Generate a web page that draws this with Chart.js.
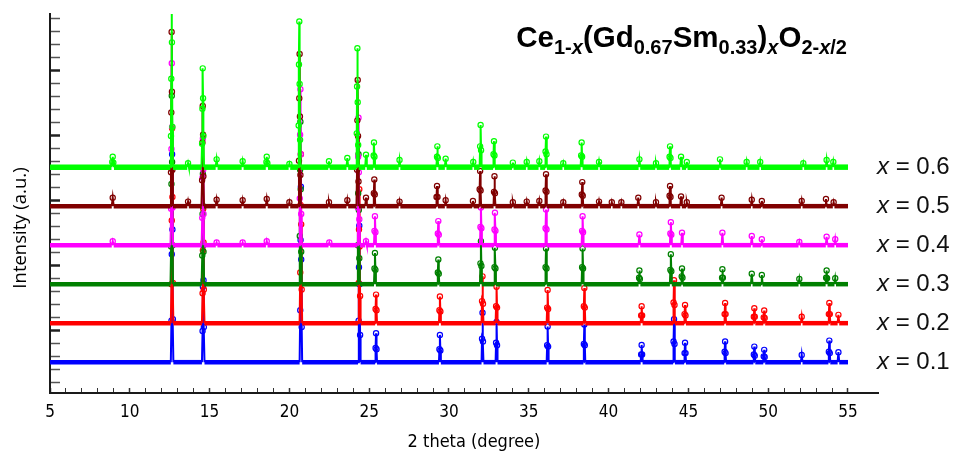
<!DOCTYPE html>
<html>
<head>
<meta charset="utf-8">
<script src="https://cdn.jsdelivr.net/npm/chart.js@4.4.1/dist/chart.umd.min.js"></script>
<style>
  html, body { margin: 0; padding: 0; background: #fff; }
  #wrap { position: relative; width: 955px; height: 466px; }
  #formula {
    position: absolute; right: 108px; top: 22px;
    font: bold 29.5px "Liberation Sans", Arial, sans-serif; line-height: 29px;
    color: #000; white-space: nowrap;
  }
  #formula span.s { font-size: 20px; vertical-align: -7px; line-height: 0; }
</style>
</head>
<body>
<div id="wrap">
  <canvas id="xrd" width="955" height="466"></canvas>
  <div id="formula">Ce<span class="s">1-<i>x</i></span>(Gd<span class="s">0.67</span>Sm<span class="s">0.33</span>)<span class="s"><i>x</i></span>O<span class="s">2-<i>x</i>/2</span></div>
</div>
<script>
// composition labels, top pattern first
const labels = ["0.6", "0.5", "0.4", "0.3", "0.2", "0.1"];
// vertical shift of each pattern (a.u.)
const offsets = [17.6, 14.6, 11.6, 8.6, 5.6, 2.6];
const colors = ["#00ff00", "#800000", "#ff00ff", "#008000", "#ff0000", "#0000ff"];

// [2 theta, intensity]
const x06 = [
  [5,0],
  [8.85,0],[8.9,0.4],[8.93,0.8],[8.97,0.35],[9.01,0],
  [12.54,0],[12.58,2.4],[12.6,6.8],[12.62,14.5],[12.64,9.6],[12.67,3.1],[12.7,0],
  [13.6,0],[13.65,0.3],[13.7,0],
  [14.49,0],[14.53,1.8],[14.55,4.5],[14.57,7.6],[14.59,5.3],[14.61,2.4],[14.65,0],
  [15.38,0],[15.44,0.6],[15.5,0],
  [17.01,0],[17.07,0.45],[17.13,0],
  [18.52,0],[18.56,0.4],[18.58,0.8],[18.62,0.3],[18.66,0],
  [19.95,0],[20.0,0.25],[20.05,0],
  [20.54,0],[20.58,3.2],[20.6,7.9],[20.62,11.2],[20.64,6.4],[20.67,2.1],[20.7,0],
  [22.43,0],[22.48,0.45],[22.53,0],
  [23.58,0],[23.63,0.7],[23.68,0],
  [24.18,0],[24.22,2.6],[24.24,6.2],[24.26,9.15],[24.28,5.0],[24.31,1.7],[24.34,0],
  [24.75,0],[24.8,0.95],[24.85,0],
  [25.25,0],[25.28,0.9],[25.3,1.9],[25.33,0.8],[25.36,0],
  [26.85,0],[26.9,0.55],[26.95,0],
  [29.21,0],[29.25,0.8],[29.27,1.6],[29.3,0.7],[29.33,0],
  [29.74,0],[29.79,0.65],[29.84,0],
  [31.47,0],[31.52,0.4],[31.57,0],
  [31.92,0],[31.95,1.6],[31.98,3.25],[32.01,1.3],[32.04,0],
  [32.76,0],[32.79,1.0],[32.82,2.0],[32.85,0.9],[32.88,0],
  [33.95,0],[34.0,0.35],[34.05,0],
  [34.82,0],[34.87,0.4],[34.92,0],
  [35.61,0],[35.66,0.45],[35.71,0],
  [36.02,0],[36.05,1.2],[36.08,2.35],[36.11,1.0],[36.14,0],
  [37.11,0],[37.16,0.3],[37.21,0],
  [38.25,0],[38.28,0.9],[38.31,1.9],[38.34,0.8],[38.37,0],
  [39.35,0],[39.4,0.4],[39.45,0],
  [41.88,0],[41.93,0.6],[41.98,0],
  [42.92,0],[42.97,0.3],[43.02,0],
  [43.79,0],[43.82,0.8],[43.85,1.6],[43.88,0.7],[43.91,0],
  [44.49,0],[44.54,0.8],[44.59,0],
  [44.85,0],[44.9,0.4],[44.95,0],
  [46.93,0],[46.98,0.6],[47.03,0],
  [48.6,0],[48.65,0.4],[48.7,0],
  [49.45,0],[49.5,0.4],[49.55,0],
  [52.15,0],[52.2,0.3],[52.25,0],
  [53.61,0],[53.66,0.55],[53.71,0],
  [54.03,0],[54.08,0.4],[54.13,0],
  [55,0]
];
const x05 = [
  [5,0],
  [8.87,0],[8.93,0.65],[8.99,0],
  [12.54,0],[12.58,2.6],[12.6,7.2],[12.62,13.4],[12.64,8.8],[12.67,2.8],[12.7,0],
  [13.6,0],[13.65,0.35],[13.7,0],
  [14.49,0],[14.53,2.0],[14.55,4.9],[14.57,7.7],[14.59,5.5],[14.61,2.3],[14.65,0],
  [15.38,0],[15.44,0.5],[15.5,0],
  [17.01,0],[17.07,0.45],[17.13,0],
  [18.52,0],[18.58,0.55],[18.64,0],
  [19.95,0],[20.0,0.3],[20.05,0],
  [20.56,0],[20.6,3.5],[20.62,8.3],[20.64,11.7],[20.66,6.9],[20.69,2.4],[20.72,0],
  [22.43,0],[22.48,0.3],[22.53,0],
  [23.58,0],[23.63,0.45],[23.68,0],
  [24.2,0],[24.24,2.8],[24.26,6.6],[24.28,9.7],[24.3,5.4],[24.33,1.9],[24.36,0],
  [24.75,0],[24.8,0.65],[24.85,0],
  [25.26,0],[25.29,1.0],[25.32,2.05],[25.35,0.9],[25.38,0],
  [26.85,0],[26.9,0.35],[26.95,0],
  [29.19,0],[29.22,0.7],[29.25,1.55],[29.28,0.7],[29.31,0],
  [29.74,0],[29.79,0.45],[29.84,0],
  [31.45,0],[31.5,0.4],[31.55,0],
  [31.89,0],[31.92,1.3],[31.95,2.7],[31.98,1.2],[32.01,0],
  [32.79,0],[32.82,1.1],[32.85,2.3],[32.88,1.0],[32.91,0],
  [33.95,0],[34.0,0.3],[34.05,0],
  [34.82,0],[34.87,0.35],[34.92,0],
  [35.61,0],[35.66,0.4],[35.71,0],
  [36.02,0],[36.05,1.2],[36.08,2.45],[36.11,1.1],[36.14,0],
  [37.11,0],[37.16,0.3],[37.21,0],
  [38.29,0],[38.32,0.9],[38.35,1.85],[38.38,0.8],[38.41,0],
  [39.35,0],[39.4,0.35],[39.45,0],
  [40.15,0],[40.2,0.3],[40.25,0],
  [40.75,0],[40.8,0.3],[40.85,0],
  [41.81,0],[41.86,0.65],[41.91,0],
  [42.92,0],[42.97,0.3],[43.02,0],
  [43.79,0],[43.82,0.8],[43.85,1.55],[43.88,0.7],[43.91,0],
  [44.49,0],[44.54,0.75],[44.59,0],
  [44.85,0],[44.9,0.3],[44.95,0],
  [47.03,0],[47.08,0.65],[47.13,0],
  [48.92,0],[48.97,0.5],[49.02,0],
  [49.55,0],[49.6,0.4],[49.65,0],
  [52.05,0],[52.1,0.4],[52.15,0],
  [53.57,0],[53.62,0.55],[53.67,0],
  [54.05,0],[54.1,0.3],[54.15,0],
  [55,0]
];
const x04 = [
  [5,0],
  [8.87,0],[8.93,0.3],[8.99,0],
  [12.55,0],[12.59,2.8],[12.61,7.4],[12.63,14],[12.65,9.1],[12.68,2.9],[12.71,0],
  [14.5,0],[14.54,2.1],[14.56,5.2],[14.58,8.2],[14.6,5.8],[14.62,2.4],[14.66,0],
  [15.39,0],[15.44,0.2],[15.49,0],
  [17.02,0],[17.07,0.2],[17.12,0],
  [18.53,0],[18.58,0.3],[18.63,0],
  [20.61,0],[20.65,3.6],[20.67,8.5],[20.69,12],[20.71,7.0],[20.74,2.4],[20.77,0],
  [22.45,0],[22.5,0.2],[22.55,0],
  [24.25,0],[24.29,2.9],[24.31,6.8],[24.33,9.8],[24.35,5.6],[24.38,2.0],[24.41,0],
  [24.75,0],[24.8,0.3],[24.85,0],
  [25.3,0],[25.33,1.1],[25.36,2.23],[25.39,1.0],[25.42,0],
  [29.27,0],[29.3,0.9],[29.33,1.85],[29.36,0.8],[29.39,0],
  [31.94,0],[31.97,1.4],[32.0,2.9],[32.03,1.3],[32.06,0],
  [32.82,0],[32.85,1.2],[32.88,2.5],[32.91,1.1],[32.94,0],
  [36.02,0],[36.05,1.3],[36.08,2.75],[36.11,1.2],[36.14,0],
  [38.31,0],[38.34,1.1],[38.37,2.23],[38.4,1.0],[38.43,0],
  [41.88,0],[41.93,0.82],[41.98,0],
  [43.84,0],[43.87,0.9],[43.9,1.77],[43.93,0.8],[43.96,0],
  [44.55,0],[44.6,0.95],[44.65,0],
  [47.08,0],[47.13,0.95],[47.18,0],
  [48.92,0],[48.97,0.7],[49.02,0],
  [49.55,0],[49.6,0.45],[49.65,0],
  [51.9,0],[51.95,0.25],[52.0,0],
  [53.61,0],[53.66,0.65],[53.71,0],
  [54.15,0],[54.2,0.45],[54.25,0],
  [55,0]
];
const x03 = [
  [5,0],
  [12.55,0],[12.59,2.9],[12.61,7.7],[12.63,14.5],[12.65,9.4],[12.68,3.0],[12.71,0],
  [14.5,0],[14.54,2.2],[14.56,5.4],[14.58,8.5],[14.6,6.0],[14.62,2.5],[14.66,0],
  [20.61,0],[20.65,3.7],[20.67,8.8],[20.69,12.5],[20.71,7.3],[20.74,2.5],[20.77,0],
  [24.25,0],[24.29,3.0],[24.31,7.0],[24.33,10],[24.35,5.7],[24.38,2.0],[24.41,0],
  [25.3,0],[25.33,1.2],[25.36,2.4],[25.39,1.1],[25.42,0],
  [29.27,0],[29.3,0.9],[29.33,1.9],[29.36,0.8],[29.39,0],
  [31.94,0],[31.97,1.6],[32.0,3.3],[32.03,1.4],[32.06,0],
  [32.82,0],[32.85,1.3],[32.88,2.8],[32.91,1.2],[32.94,0],
  [36.02,0],[36.05,1.3],[36.08,2.75],[36.11,1.2],[36.14,0],
  [38.31,0],[38.34,1.3],[38.37,2.75],[38.4,1.2],[38.43,0],
  [41.88,0],[41.91,0.5],[41.93,1.05],[41.96,0.4],[41.99,0],
  [43.84,0],[43.87,1.1],[43.9,2.3],[43.93,1.0],[43.96,0],
  [44.55,0],[44.58,0.6],[44.6,1.2],[44.63,0.5],[44.66,0],
  [47.08,0],[47.11,0.5],[47.13,1.15],[47.16,0.5],[47.19,0],
  [48.92,0],[48.97,0.8],[49.02,0],
  [49.55,0],[49.6,0.7],[49.65,0],
  [51.9,0],[51.95,0.4],[52.0,0],
  [53.6,0],[53.63,0.5],[53.66,1.05],[53.69,0.45],[53.72,0],
  [54.15,0],[54.2,0.45],[54.25,0],
  [55,0]
];
const x02 = [
  [5,0],
  [12.57,0],[12.61,3.0],[12.63,7.9],[12.65,15],[12.67,9.7],[12.7,3.1],[12.73,0],
  [14.52,0],[14.56,2.3],[14.58,5.6],[14.6,8.8],[14.62,6.2],[14.64,2.6],[14.68,0],
  [20.64,0],[20.68,3.9],[20.7,9.1],[20.72,13],[20.74,7.6],[20.77,2.6],[20.8,0],
  [24.3,0],[24.34,3.1],[24.36,7.2],[24.38,10.3],[24.4,5.9],[24.43,2.1],[24.46,0],
  [25.37,0],[25.4,1.1],[25.43,2.2],[25.46,1.0],[25.49,0],
  [29.37,0],[29.4,1.0],[29.43,2.05],[29.46,0.9],[29.49,0],
  [32.04,0],[32.07,1.7],[32.1,3.6],[32.13,1.5],[32.16,0],
  [32.92,0],[32.95,1.3],[32.98,2.8],[33.01,1.2],[33.04,0],
  [36.12,0],[36.15,1.2],[36.18,2.55],[36.21,1.1],[36.24,0],
  [38.42,0],[38.45,1.3],[38.48,2.7],[38.51,1.2],[38.54,0],
  [42.01,0],[42.04,0.6],[42.07,1.3],[42.1,0.6],[42.13,0],
  [44.04,0],[44.07,1.6],[44.1,3.3],[44.13,1.4],[44.16,0],
  [44.73,0],[44.76,0.7],[44.79,1.4],[44.82,0.6],[44.85,0],
  [47.24,0],[47.27,0.7],[47.3,1.55],[47.33,0.7],[47.36,0],
  [49.07,0],[49.1,0.5],[49.13,1.15],[49.16,0.5],[49.19,0],
  [49.69,0],[49.72,0.45],[49.75,0.97],[49.78,0.4],[49.81,0],
  [52.05,0],[52.1,0.5],[52.15,0],
  [53.77,0],[53.8,0.7],[53.83,1.55],[53.86,0.7],[53.89,0],
  [54.35,0],[54.4,0.64],[54.45,0],
  [55,0]
];
const x01 = [
  [5,0],
  [12.57,0],[12.61,3.2],[12.63,8.3],[12.65,16],[12.67,10.2],[12.7,3.3],[12.73,0],
  [14.52,0],[14.56,2.4],[14.58,5.8],[14.6,9],[14.62,6.3],[14.64,2.7],[14.68,0],
  [20.64,0],[20.68,4.0],[20.7,9.4],[20.72,13.5],[20.74,7.9],[20.77,2.7],[20.8,0],
  [24.3,0],[24.34,3.2],[24.36,7.3],[24.38,10.5],[24.4,6.0],[24.43,2.1],[24.46,0],
  [25.37,0],[25.4,1.1],[25.43,2.23],[25.46,1.0],[25.49,0],
  [29.37,0],[29.4,1.0],[29.43,2.1],[29.46,0.9],[29.49,0],
  [32.04,0],[32.07,1.8],[32.1,3.8],[32.13,1.6],[32.16,0],
  [32.92,0],[32.95,1.5],[32.98,3.1],[33.01,1.3],[33.04,0],
  [36.12,0],[36.15,1.3],[36.18,2.75],[36.21,1.2],[36.24,0],
  [38.42,0],[38.45,1.4],[38.48,2.9],[38.51,1.3],[38.54,0],
  [42.01,0],[42.04,0.6],[42.07,1.33],[42.1,0.6],[42.13,0],
  [44.04,0],[44.07,1.6],[44.1,3.3],[44.13,1.4],[44.16,0],
  [44.73,0],[44.76,0.7],[44.79,1.5],[44.82,0.7],[44.85,0],
  [47.24,0],[47.27,0.8],[47.3,1.6],[47.33,0.7],[47.36,0],
  [49.07,0],[49.1,0.6],[49.13,1.2],[49.16,0.5],[49.19,0],
  [49.69,0],[49.72,0.45],[49.75,0.95],[49.78,0.4],[49.81,0],
  [52.05,0],[52.1,0.56],[52.15,0],
  [53.77,0],[53.8,0.8],[53.83,1.66],[53.86,0.7],[53.89,0],
  [54.35,0],[54.4,0.77],[54.45,0],
  [55,0]
];
const patterns = [x06, x05, x04, x03, x02, x01];

// x tick values that get a label
const xLabelTicks = [5, 10, 15, 20, 25, 30, 35, 40, 45, 50, 55];

const datasets = patterns.map((pts, i) => {
  const off = offsets[i];
  return {
    label: "x = " + labels[i],
    data: pts.map(p => ({ x: p[0], y: p[1] + off })),
    borderColor: colors[i],
    backgroundColor: "rgba(0,0,0,0)",
    borderWidth: 2,
    tension: 0,
    pointStyle: "circle",
    pointRadius: ctx => (ctx.raw && ctx.raw.y - off > 0.12 ? 2.6 : 0),
    pointBorderWidth: 1.2,
    pointBorderColor: colors[i],
    pointBackgroundColor: "rgba(0,0,0,0)",
    segment: {
      borderWidth: c => (c.p0.parsed.y - off < 0.05 && c.p1.parsed.y - off < 0.05 ? (i === 0 ? 5.5 : 4.5) : 2)
    }
  };
});

// composition labels on the right + axis titles
const textLayer = {
  id: "textLayer",
  afterDraw(chart) {
    const { ctx, chartArea, scales } = chart;
    ctx.save();
    ctx.textBaseline = "middle";
    ctx.fillStyle = "#111";
    labels.forEach((v, i) => {
      const py = scales.y.getPixelForValue(offsets[i]);
      let px = chartArea.right - 1;
      ctx.font = 'italic 24px "Liberation Sans", Arial, sans-serif';
      ctx.fillText("x", px, py);
      px += ctx.measureText("x").width;
      ctx.font = '24px "Liberation Sans", Arial, sans-serif';
      ctx.fillText(" = " + v, px, py);
    });

    ctx.textAlign = "center";
    ctx.fillStyle = "#000";
    ctx.font = '18px "Liberation Sans Narrow", "DejaVu Sans Condensed", sans-serif';
    ctx.fillText("2 theta (degree)", 474, 442);

    ctx.translate(21, 228);
    ctx.rotate(-Math.PI / 2);
    ctx.font = '18.5px "Open Sans", sans-serif';
    ctx.fillText("Intensity (a.u.)", 0, 0);
    ctx.restore();
  }
};

new Chart(document.getElementById("xrd"), {
  type: "line",
  data: { datasets: datasets },
  options: {
    responsive: false,
    animation: false,
    devicePixelRatio: 1,
    events: [],
    layout: { padding: { left: 0, right: 77, top: 14, bottom: 0 } },
    plugins: { legend: { display: false }, tooltip: { enabled: false } },
    scales: {
      x: {
        type: "linear",
        min: 5,
        max: 56.88,
        afterFit: s => { s.height = 73; },
        border: { color: "#1a1a1a", width: 2 },
        grid: {
          drawOnChartArea: false,
          drawTicks: true,
          tickLength: -5,
          tickWidth: c => (c.tick && c.tick.value % 5 === 0 ? 1.5 : 1),
          tickColor: c => (c.tick && c.tick.value > 55 ? "rgba(0,0,0,0)" : "#333")
        },
        ticks: {
          stepSize: 1,
          includeBounds: false,
          autoSkip: false,
          maxRotation: 0,
          padding: 14,
          color: "#000",
          font: { family: '"Liberation Sans Narrow", "DejaVu Sans Condensed", sans-serif', size: 17 },
          callback: v => (xLabelTicks.includes(v) ? String(v) : "")
        },
        title: { display: false }
      },
      y: {
        type: "linear",
        min: 0.23,
        max: 29.38,
        afterFit: s => { s.width = 50; },
        border: { color: "#1a1a1a", width: 2 },
        grid: {
          drawOnChartArea: false,
          drawTicks: true,
          tickLength: -10,
          tickWidth: c => (c.tick && c.tick.value % 5 === 0 ? 2.5 : 1.5),
          tickColor: c => (c.tick && c.tick.value % 5 === 0 ? "#222" : "#555")
        },
        ticks: { display: false, stepSize: 1, includeBounds: false },
        title: { display: false }
      }
    }
  },
  plugins: [textLayer]
});
</script>
</body>
</html>
